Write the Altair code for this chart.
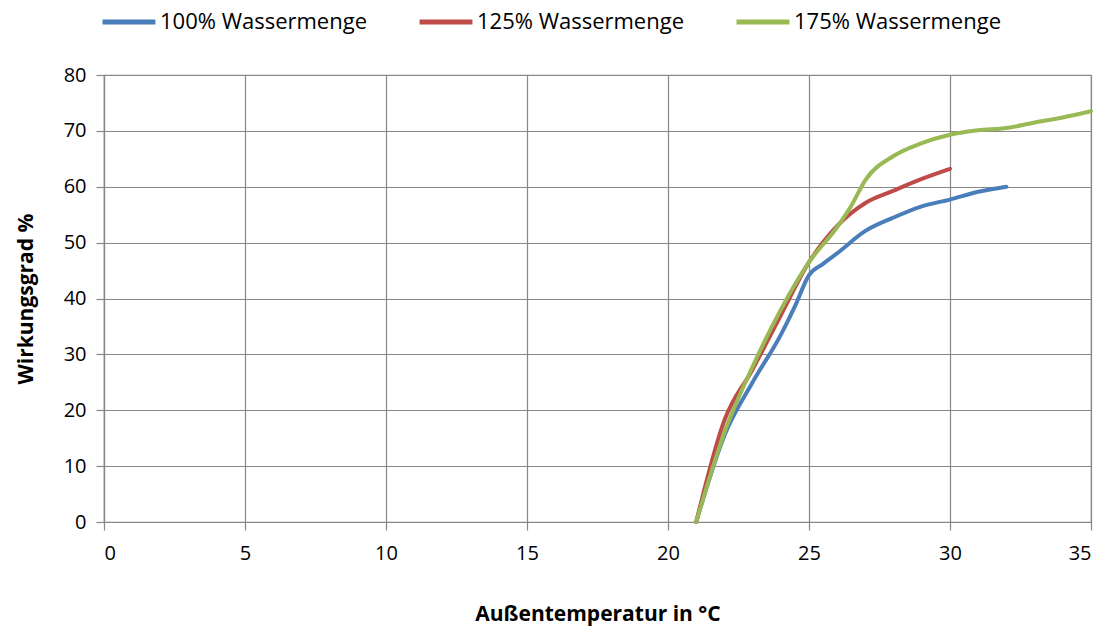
import altair as alt
import pandas as pd

series_names = ["100% Wassermenge", "125% Wassermenge", "175% Wassermenge"]
colors = ["#4A7EBB", "#BE4B48", "#98B954"]

x_100 = [21, 22, 23, 24, 24.5, 25, 25.5, 26, 27, 28, 29, 30, 31, 32]
y_100 = [0, 15.5, 25, 33.5, 38.6, 44.2, 46.2, 48.1, 52.1, 54.5, 56.5, 57.7, 59.1, 60.0]

x_125 = [21, 22, 23, 24, 25, 26, 27, 28, 29, 30]
y_125 = [0, 18.2, 27.3, 37.0, 46.5, 53.0, 57.1, 59.3, 61.4, 63.2]

x_175 = [21, 22, 23, 24, 25, 26, 26.5, 27, 28, 29, 30, 31, 32, 33, 34, 35]
y_175 = [0, 16.0, 27.8, 38.0, 46.5, 52.8, 56.6, 61.2, 65.5, 67.8, 69.3, 70.1, 70.5, 71.5, 72.4, 73.5]

x_ticks = [0, 5, 10, 15, 20, 25, 30, 35]
y_ticks = [0, 10, 20, 30, 40, 50, 60, 70, 80]

rows = []
for name, xs, ys in zip(series_names, [x_100, x_125, x_175], [y_100, y_125, y_175]):
    for i, (a, b) in enumerate(zip(xs, ys)):
        rows.append({"Serie": name, "x": a, "y": b, "o": i})
df = pd.DataFrame(rows)

font = "Open Sans"
grid_col = "#878787"

chart = alt.Chart(df).mark_line(strokeWidth=4, interpolate="monotone", strokeCap="round").encode(
    x=alt.X("x:Q", scale=alt.Scale(domain=[0, 35], nice=False),
            axis=alt.Axis(values=x_ticks, title="Außentemperatur in °C", titleFontSize=21,
                          titleFontWeight="bold", titlePadding=40, labelFontSize=20,
                          labelPadding=13, tickSize=8)),
    y=alt.Y("y:Q", scale=alt.Scale(domain=[0, 80], nice=False),
            axis=alt.Axis(values=y_ticks, title="Wirkungsgrad %", titleFontSize=21,
                          titleFontWeight="bold", titlePadding=27, labelFontSize=20,
                          labelPadding=10, tickSize=8)),
    color=alt.Color("Serie:N", scale=alt.Scale(domain=series_names, range=colors),
                    legend=alt.Legend(title=None, orient="none", direction="horizontal",
                                      legendX=-4, legendY=-82, symbolType="stroke",
                                      symbolSize=2800, symbolStrokeWidth=5,
                                      labelFontSize=22, labelOffset=2, columnPadding=41,
                                      labelLimit=400)),
    order="o:Q",
).properties(
    width=987, height=447,
    autosize=alt.AutoSizeParams(type="none"),
    padding={"left": 104, "top": 75, "right": 18, "bottom": 104},
).configure_axis(
    gridColor=grid_col, gridWidth=1.2, domainColor=grid_col, domainWidth=1.2,
    tickColor=grid_col, tickWidth=1.2, labelColor="#000000", titleColor="#000000",
    labelFont=font, titleFont=font,
).configure_legend(
    labelFont=font, labelColor="#000000",
).configure_view(stroke=grid_col, strokeWidth=1.2)

chart.save("out.html", embed_options={"renderer": "svg", "actions": False})
